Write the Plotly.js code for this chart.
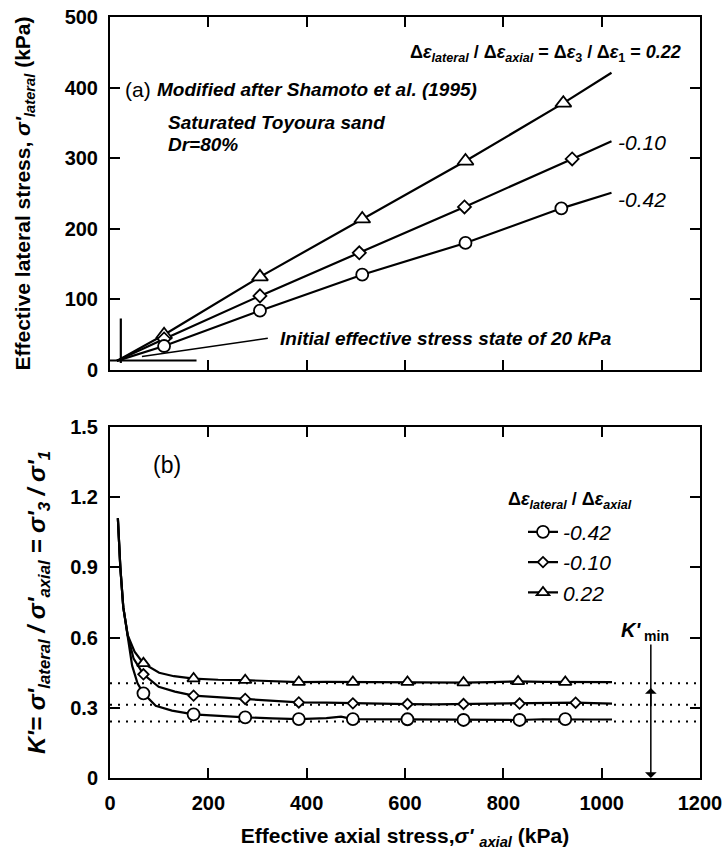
<!DOCTYPE html>
<html><head><meta charset="utf-8">
<script src="https://cdn.plot.ly/plotly-3.0.1.min.js"></script>
<style>body{margin:0;background:#fff}#chart{width:724px;height:850px}</style>
</head><body><div id="chart"></div>
<script>
// ---------- Panel (a): effective lateral vs axial stress (kPa) ----------
const aTriLineX = [14, 110, 305, 513, 723, 922, 1020];
const aTriLineY = [13, 50, 132, 214, 296, 378, 421];
const aTriMkX = [110, 305, 513, 723, 922];
const aTriMkY = [50, 132, 214, 296, 378];
const aDiaLineX = [14, 110, 305, 507, 721, 940, 1020];
const aDiaLineY = [13, 44, 105, 166, 231, 299, 324];
const aDiaMkX = [110, 305, 507, 721, 940];
const aDiaMkY = [44, 105, 166, 231, 299];
const aCirLineX = [14, 110, 305, 513, 723, 918, 1020];
const aCirLineY = [13, 34, 84, 135, 180, 229, 251];
const aCirMkX = [110, 305, 513, 723, 918];
const aCirMkY = [34, 84, 135, 180, 229];
// initial stress state guide lines
const initVertX = [22, 22], initVertY = [10, 73];
const initHorzX = [0, 176], initHorzY = [13.5, 13.5];
const pointerX = [65, 321], pointerY = [19, 45];

// ---------- Panel (b): K' = σ'3/σ'1 vs axial stress ----------
const bTriX = [16,21,27,31,36,50,68,100,130,170,220,275,330,384,440,494,550,605,660,719,775,830,880,926,980,1021];
const bTriY = [1.11,0.90,0.73,0.67,0.61,0.54,0.49,0.45,0.435,0.425,0.42,0.418,0.414,0.41,0.411,0.41,0.409,0.41,0.409,0.408,0.41,0.413,0.411,0.41,0.41,0.41];
const bTriMkX = [68,170,275,384,494,605,719,830,926];
const bTriMkY = [0.49,0.425,0.418,0.41,0.41,0.41,0.408,0.413,0.41];
const bDiaX = [16,21,27,31,36,48,68,99,132,170,220,275,330,384,440,494,550,605,660,719,775,833,890,947,1021];
const bDiaY = [1.11,0.90,0.73,0.67,0.61,0.51,0.443,0.39,0.369,0.352,0.345,0.338,0.33,0.323,0.322,0.319,0.317,0.316,0.315,0.316,0.316,0.318,0.319,0.322,0.318];
const bDiaMkX = [68,170,275,384,494,605,719,833,947];
const bDiaMkY = [0.443,0.352,0.338,0.323,0.319,0.316,0.316,0.318,0.322];
const bCirX = [16,21,27,31,36,45,56,68,93,126,170,220,275,330,384,440,470,494,550,605,660,719,775,833,880,926,980,1021];
const bCirY = [1.11,0.90,0.73,0.67,0.60,0.48,0.405,0.362,0.309,0.288,0.272,0.265,0.259,0.255,0.252,0.256,0.262,0.252,0.251,0.251,0.249,0.248,0.249,0.248,0.251,0.252,0.25,0.25];
const bCirMkX = [68,170,275,384,494,605,719,833,926];
const bCirMkY = [0.362,0.272,0.259,0.252,0.252,0.251,0.248,0.248,0.252];
const kLevels = [0.405, 0.313, 0.242];
const dottedX = [0, 1200];
const kminX = 1100, kminTop = 0.577, kminUpTip = 0.385, kminUpTail = 0.30;

const legendNames = ['-0.42', '-0.10', '0.22'];

const BLK = '#000';
const FONT = 'Liberation Sans, Arial, sans-serif';

function lineTr(x, y, xa, ya) {
  return {x, y, xaxis: xa, yaxis: ya, mode: 'lines', line: {color: BLK, width: 2.2}, showlegend: false, hoverinfo: 'skip'};
}
function mkTr(x, y, sym, size, xa, ya) {
  return {x, y, xaxis: xa, yaxis: ya, mode: 'markers', showlegend: false, hoverinfo: 'skip',
    marker: {symbol: sym, size, color: '#fff', line: {color: BLK, width: 1.8}}};
}

const traces = [
  lineTr(initVertX, initVertY, 'x', 'y'),
  lineTr(initHorzX, initHorzY, 'x', 'y'),
  {x: pointerX, y: pointerY, xaxis: 'x', yaxis: 'y', mode: 'lines', line: {color: BLK, width: 1.5}, showlegend: false, hoverinfo: 'skip'},
  lineTr(aTriLineX, aTriLineY, 'x', 'y'),
  lineTr(aDiaLineX, aDiaLineY, 'x', 'y'),
  lineTr(aCirLineX, aCirLineY, 'x', 'y'),
  mkTr(aTriMkX, aTriMkY, 'triangle-up', 14, 'x', 'y'),
  mkTr(aDiaMkX, aDiaMkY, 'diamond', 10, 'x', 'y'),
  mkTr(aCirMkX, aCirMkY, 'circle', 12, 'x', 'y'),
];
kLevels.forEach(k => traces.push({x: dottedX, y: [k, k], xaxis: 'x2', yaxis: 'y2', mode: 'lines',
  line: {color: BLK, width: 2, dash: '2px,6px'}, showlegend: false, hoverinfo: 'skip'}));
traces.push(
  lineTr(bTriX, bTriY, 'x2', 'y2'),
  lineTr(bDiaX, bDiaY, 'x2', 'y2'),
  lineTr(bCirX, bCirY, 'x2', 'y2'),
  mkTr(bTriMkX, bTriMkY, 'triangle-up', 11, 'x2', 'y2'),
  mkTr(bDiaMkX, bDiaMkY, 'diamond', 8, 'x2', 'y2'),
  mkTr(bCirMkX, bCirMkY, 'circle', 12, 'x2', 'y2')
);
// legend entries
const legSyms = ['circle', 'diamond', 'triangle-up'];
const legSizes = [12, 8, 11];
legendNames.forEach((n, i) => traces.push({x: [null], y: [null], xaxis: 'x2', yaxis: 'y2', name: n,
  mode: 'lines+markers', line: {color: BLK, width: 2.2},
  marker: {symbol: legSyms[i], size: legSizes[i], color: '#fff', line: {color: BLK, width: 1.8}}}));

const tickFont = {family: FONT, size: 20, color: BLK, weight: 'bold'};
const axCommon = {showline: true, linecolor: BLK, linewidth: 2, mirror: 'ticks', ticks: 'inside',
  ticklen: 10, tickwidth: 2, tickcolor: BLK, showgrid: false, zeroline: false, tickfont: tickFont, automargin: false};

const annFont = {family: FONT, size: 19, color: BLK, weight: 'bold', style: 'italic'};
function ann(text, x, y, xref, yref, xanchor, font) {
  return {text, x, y, xref, yref, xanchor: xanchor || 'left', yanchor: 'middle', showarrow: false, font: font || annFont};
}

const layout = {
  width: 724, height: 850,
  margin: {l: 110, r: 24, t: 17, b: 72},
  paper_bgcolor: '#fff', plot_bgcolor: '#fff',
  font: {family: FONT, color: BLK},
  showlegend: true,
  legend: {x: 0.70, y: 0.35, xanchor: 'left', yanchor: 'top', bgcolor: 'rgba(0,0,0,0)',
    font: {family: FONT, size: 21, color: BLK, style: 'italic'}, tracegroupgap: 0, itemwidth: 30},
  xaxis: Object.assign({}, axCommon, {domain: [0, 1], anchor: 'y', range: [0, 1200], dtick: 200, showticklabels: false}),
  yaxis: Object.assign({}, axCommon, {domain: [0.5361, 1], anchor: 'x', range: [0, 500], dtick: 100,
    ticklabelstandoff: 6,
    title: {text: 'Effective lateral stress, <i>σ\'</i><sub><i>lateral</i></sub> (kPa)', standoff: 28,
      font: {family: FONT, size: 21, color: BLK, weight: 'bold'}}}),
  xaxis2: Object.assign({}, axCommon, {domain: [0, 1], anchor: 'y2', range: [0, 1200], dtick: 200,
    ticklabelstandoff: 6, ticklabeloverflow: 'allow',
    title: {text: 'Effective axial stress,<i>σ\'</i> <sub><i>axial</i></sub> (kPa)', standoff: 16,
      font: {family: FONT, size: 21, color: BLK, weight: 'bold'}}}),
  yaxis2: Object.assign({}, axCommon, {domain: [0, 0.4612], anchor: 'x2', range: [0, 1.5], dtick: 0.3,
    ticklabelstandoff: 6,
    title: {text: '<i>K\'= σ\'<sub>lateral</sub> / σ\'<sub>axial</sub> = σ\'<sub>3</sub> / σ\'<sub>1</sub></i>', standoff: 18,
      font: {family: FONT, size: 24, color: BLK, weight: 'bold'}}}),
  annotations: [
    ann('Δ<i>ε</i><sub><i>lateral</i></sub> / Δ<i>ε</i><sub><i>axial</i></sub> = Δ<i>ε</i><sub>3</sub> / Δ<i>ε</i><sub>1</sub> = <i>0.22</i>', 1165, 448, 'x', 'y', 'right',
      {family: FONT, size: 18, color: BLK, weight: 'bold'}),
    ann('-0.10', 1030, 322, 'x', 'y', 'left', {family: FONT, size: 21, color: BLK, style: 'italic'}),
    ann('-0.42', 1030, 242, 'x', 'y', 'left', {family: FONT, size: 21, color: BLK, style: 'italic'}),
    ann('(a)', 26, 398, 'x', 'y', 'left', {family: FONT, size: 21, color: BLK}),
    ann('Modified after Shamoto et al. (1995)', 92, 398, 'x', 'y', 'left'),
    ann('Saturated Toyoura sand', 114, 350, 'x', 'y', 'left'),
    ann('Dr=80%', 114, 319, 'x', 'y', 'left'),
    ann('Initial effective stress state of 20 kPa', 341, 45, 'x', 'y', 'left'),
    ann('(b)', 84, 1.337, 'x2', 'y2', 'left', {family: FONT, size: 23, color: BLK}),
    ann('<i>K\'</i><sub> min</sub>', 1088, 0.624, 'x2', 'y2', 'center', {family: FONT, size: 20, color: BLK, weight: 'bold'}),
    ann('Δ<i>ε</i><sub><i>lateral</i></sub> / Δ<i>ε</i><sub><i>axial</i></sub>', 0.672, 0.365, 'paper', 'paper', 'left',
      {family: FONT, size: 18, color: BLK, weight: 'bold'}),
    {x: kminX, y: 0, ax: kminX, ay: kminTop, xref: 'x2', yref: 'y2', axref: 'x2', ayref: 'y2', text: '',
      showarrow: true, arrowhead: 1, arrowsize: 1.3, arrowwidth: 1.5, arrowcolor: BLK},
    {x: kminX, y: kminUpTip, ax: kminX, ay: kminUpTail, xref: 'x2', yref: 'y2', axref: 'x2', ayref: 'y2', text: '',
      showarrow: true, arrowhead: 1, arrowsize: 1.3, arrowwidth: 1.5, arrowcolor: BLK}
  ]
};

Plotly.newPlot('chart', traces, layout, {displayModeBar: false, staticPlot: true});
</script>
</body></html>
